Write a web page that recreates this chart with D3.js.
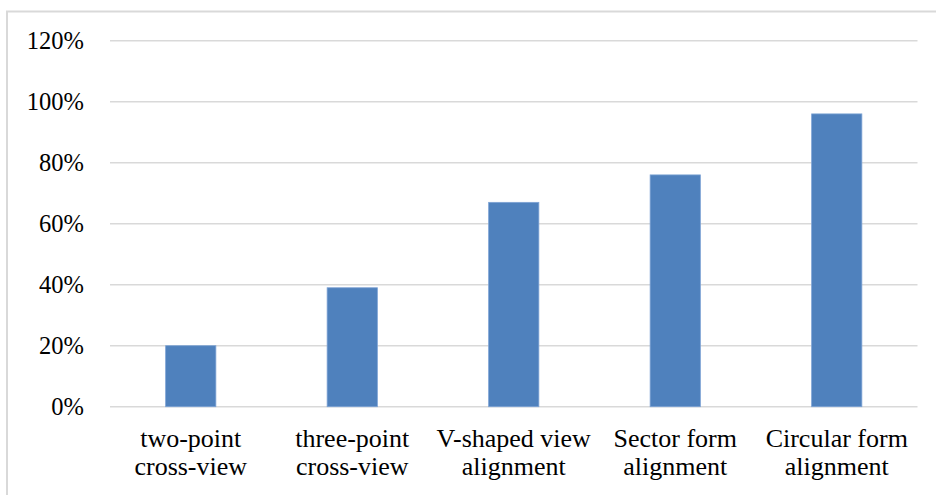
<!DOCTYPE html>
<html>
<head>
<meta charset="utf-8">
<script src="https://cdn.jsdelivr.net/npm/d3@7"></script>
<style>
  html, body { margin: 0; padding: 0; background: #fff; }
  svg { display: block; }
</style>
</head>
<body>
<div id="chart"></div>
<script>
// Share of correct recognition per camera arrangement
const categories = [
  ["two-point", "cross-view"],
  ["three-point", "cross-view"],
  ["V-shaped view", "alignment"],
  ["Sector form", "alignment"],
  ["Circular form", "alignment"]
];
const values = [0.20, 0.39, 0.67, 0.76, 0.96];
const yTicks = [0, 0.2, 0.4, 0.6, 0.8, 1.0, 1.2];

const FONT = "'Liberation Serif', 'DejaVu Serif', serif";
const W = 936, H = 495;
const margin = { left: 110, right: 18.5, top: 40.7, bottom: 88.3 };

const svg = d3.select("#chart").append("svg")
  .attr("width", W).attr("height", H)
  .style("font-family", FONT);

// chart frame (only top and left edges fall inside the canvas)
svg.append("rect")
  .attr("x", 7).attr("y", 11.5)
  .attr("width", W + 20).attr("height", H + 20)
  .attr("fill", "none")
  .attr("stroke", "#d9d9d9")
  .attr("stroke-width", 2);

const x = d3.scaleBand()
  .domain(d3.range(categories.length))
  .range([margin.left, W - margin.right])
  .paddingInner(0.689)
  .paddingOuter(0.3445);

const y = d3.scaleLinear()
  .domain([0, 1.2])
  .range([H - margin.bottom, margin.top]);

// horizontal gridlines
svg.append("g")
  .selectAll("line")
  .data(yTicks)
  .join("line")
  .attr("x1", margin.left)
  .attr("x2", W - margin.right)
  .attr("y1", d => y(d))
  .attr("y2", d => y(d))
  .attr("stroke", "#d9d9d9")
  .attr("stroke-width", 1.4);

// y-axis labels
const yAxis = d3.axisLeft(y)
  .tickValues(yTicks)
  .tickFormat(d3.format(".0%"))
  .tickSize(0)
  .tickPadding(26);
const gy = svg.append("g")
  .attr("transform", `translate(${margin.left},0)`)
  .call(yAxis);
gy.attr("font-family", null).attr("font-size", null);
gy.select(".domain").remove();
gy.selectAll("text")
  .style("font-family", FONT)
  .style("font-size", "24.5px")
  .attr("fill", "#000");

// bars
svg.append("g")
  .selectAll("rect")
  .data(values)
  .join("rect")
  .attr("x", (d, i) => x(i))
  .attr("width", x.bandwidth())
  .attr("y", d => y(d))
  .attr("height", d => y(0) - y(d))
  .attr("fill", "#4f81bd")
  .attr("stroke", "#7da3d4")
  .attr("stroke-width", 0.8);

// category labels (two lines each)
const xAxis = d3.axisBottom(x).tickSize(0).tickFormat("");
const gx = svg.append("g")
  .attr("transform", `translate(0,${y(0)})`)
  .call(xAxis);
gx.attr("font-family", null).attr("font-size", null);
gx.select(".domain").remove();
gx.selectAll(".tick").each(function (i) {
  const t = d3.select(this).append("text")
    .attr("text-anchor", "middle")
    .style("font-family", FONT)
    .style("font-size", "26px")
    .attr("fill", "#000");
  categories[i].forEach((line, k) => {
    t.append("tspan")
      .attr("x", 0)
      .attr("y", 40 + k * 28.5)
      .text(line);
  });
});
</script>
</body>
</html>
